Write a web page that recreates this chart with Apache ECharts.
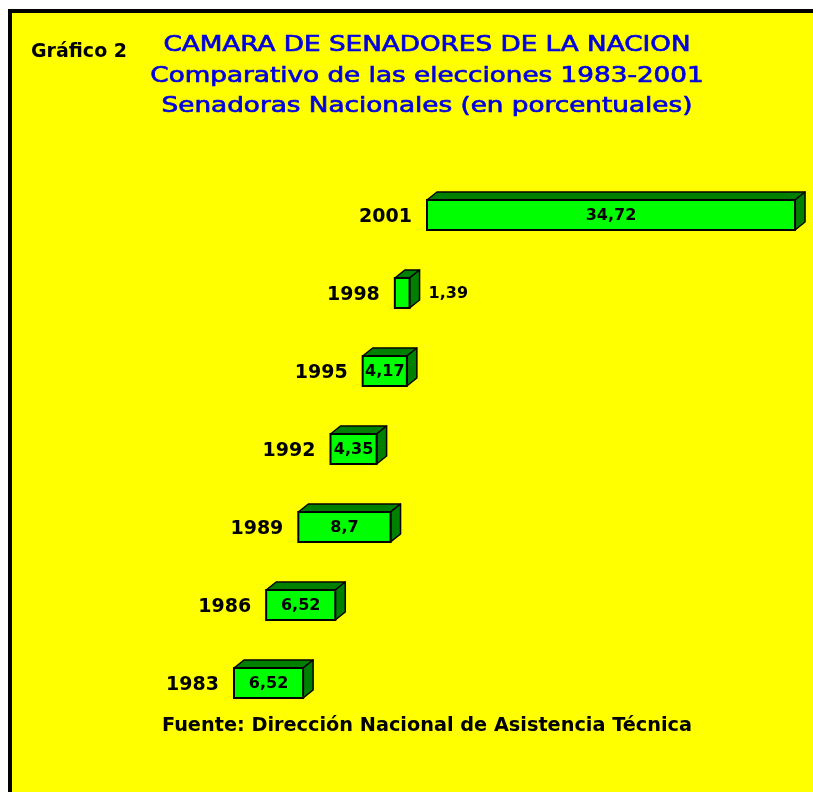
<!DOCTYPE html>
<html>
<head>
<meta charset="utf-8">
<script src="https://cdn.jsdelivr.net/npm/echarts@6/dist/echarts.min.js"></script>
<style>
  html, body { margin: 0; padding: 0; background: #fff; }
  #chart { width: 813px; height: 792px; }
</style>
</head>
<body>
<div id="chart"></div>
<script>
// años (de abajo hacia arriba) y porcentaje de senadoras
var years = ["1983", "1986", "1989", "1992", "1995", "1998", "2001"];
var senadoras = [6.52, 6.52, 8.7, 4.35, 4.17, 1.39, 34.72];
var valueLabels = ["6,52", "6,52", "8,7", "4,35", "4,17", "1,39", "34,72"];

var titleLines = [
  "CAMARA DE SENADORES DE LA NACION",
  "Comparativo de las elecciones 1983-2001",
  "Senadoras Nacionales (en porcentuales)"
];
var grafico = "Gráfico 2";
var fuente = "Fuente: Dirección Nacional de Asistencia Técnica";

// estilo "3D" de las barras
var SLANT = 0.4124;   // desplazamiento horizontal por px de altura
var DEPTH_X = 10;
var DEPTH_Y = 8;
var BAR_H = 30;

var chart = echarts.init(document.getElementById("chart"));

function renderBar(params, api) {
  var cat = api.value(1);
  var val = api.value(0);
  var first = api.coord([0, 0]);
  var start = api.coord([0, cat]);
  var end = api.coord([val, cat]);
  var shift = (first[1] - start[1]) * SLANT;
  var x0 = start[0] + shift;
  var x1 = end[0] + shift;
  var y0 = start[1] - BAR_H / 2;
  var y1 = start[1] + BAR_H / 2;
  var w = x1 - x0;
  var stroke = { stroke: "#000", lineWidth: 1.5, lineJoin: "round" };

  // etiqueta dentro de la barra salvo que no entre
  var inside = w > 30;
  var children = [
    {
      type: "polygon",
      shape: { points: [[x0, y0], [x1, y0], [x1 + DEPTH_X, y0 - DEPTH_Y], [x0 + DEPTH_X, y0 - DEPTH_Y]] },
      style: Object.assign({ fill: "#008000" }, stroke)
    },
    {
      type: "polygon",
      shape: { points: [[x1, y0], [x1 + DEPTH_X, y0 - DEPTH_Y], [x1 + DEPTH_X, y1 - DEPTH_Y], [x1, y1]] },
      style: Object.assign({ fill: "#008000" }, stroke)
    },
    {
      type: "rect",
      shape: { x: x0, y: y0, width: w, height: BAR_H },
      style: { fill: "#00ff00", stroke: "#000", lineWidth: 2 }
    },
    {
      type: "text",
      style: {
        text: valueLabels[params.dataIndex],
        x: inside ? (x0 + x1) / 2 : x1 + DEPTH_X + 9,
        y: start[1] + 1,
        align: inside ? "center" : "left",
        verticalAlign: "middle",
        font: "bold 16px 'DejaVu Sans'",
        fill: "#000"
      }
    },
    {
      type: "text",
      style: {
        text: years[cat],
        x: x0 - 15,
        y: start[1] + 2,
        align: "right",
        verticalAlign: "middle",
        font: "bold 19px 'DejaVu Sans'",
        fill: "#000"
      }
    }
  ];
  return { type: "group", children: children };
}

var titleGraphics = titleLines.map(function (t, i) {
  return {
    type: "text",
    x: 427,
    y: 46 + i * 30.5,
    scaleX: 1.25,
    z: 10,
    style: {
      text: t,
      x: 0,
      y: 0,
      align: "center",
      verticalAlign: "middle",
      font: "21px 'DejaVu Sans'",
      fill: "#0000e0",
      stroke: "#0000e0",
      lineWidth: 0.7
    }
  };
});

chart.setOption({
  backgroundColor: "#ffffff",
  animation: false,
  grid: { left: 234, top: 176, width: 424, height: 546 },
  xAxis: { type: "value", min: 0, max: 40, show: false },
  yAxis: { type: "category", data: years, show: false },
  graphic: [
    {
      type: "rect",
      z: -10,
      shape: { x: 10, y: 11, width: 830, height: 820 },
      style: { fill: "#ffff00", stroke: "#000", lineWidth: 4 }
    },
    {
      type: "text",
      z: 10,
      style: {
        text: grafico,
        x: 31,
        y: 52,
        verticalAlign: "middle",
        font: "bold 19px 'DejaVu Sans'",
        fill: "#000"
      }
    },
    {
      type: "text",
      z: 10,
      x: 427,
      y: 726,
      scaleX: 1.015,
      style: {
        text: fuente,
        x: 0,
        y: 0,
        align: "center",
        verticalAlign: "middle",
        font: "bold 19px 'DejaVu Sans'",
        fill: "#000"
      }
    }
  ].concat(titleGraphics),
  series: [
    {
      type: "custom",
      renderItem: renderBar,
      encode: { x: 0, y: 1 },
      data: senadoras.map(function (v, i) { return [v, i]; })
    }
  ]
});
</script>
</body>
</html>
